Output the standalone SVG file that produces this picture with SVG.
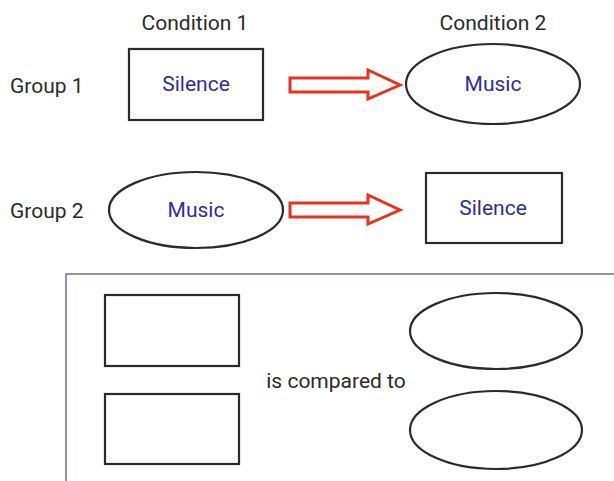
<svg xmlns="http://www.w3.org/2000/svg" width="614" height="481" viewBox="0 0 614 481">
<style>
.shape{fill:#fff;stroke:#2a2a2a;stroke-width:2.2}
.lbl{font-family:Roboto,"DejaVu Sans",sans-serif;font-size:21px;fill:#2a2a2a}
.node{font-family:Roboto,"DejaVu Sans",sans-serif;font-size:21px;fill:#2d2d9a;text-anchor:middle}
.arrow{fill:#fff;stroke:#e8321e;stroke-width:3;stroke-linejoin:miter}
</style>
<rect width="614" height="481" fill="#fff"/>
<text class="lbl" x="195" y="30" text-anchor="middle">Condition 1</text>
<text class="lbl" x="493" y="30" text-anchor="middle">Condition 2</text>
<text class="lbl" x="10" y="93">Group 1</text>
<text class="lbl" x="10" y="218">Group 2</text>
<g id="g1c1"><rect class="shape" x="129" y="49" width="134" height="71"/><text class="node" x="196" y="91">Silence</text></g>
<g id="g1c2"><ellipse class="shape" cx="493" cy="84" rx="87" ry="40"/><text class="node" x="493" y="91">Music</text></g>
<g id="g2c1"><ellipse class="shape" cx="196" cy="210" rx="87" ry="38"/><text class="node" x="196" y="217">Music</text></g>
<g id="g2c2"><rect class="shape" x="426" y="173" width="136" height="70"/><text class="node" x="493" y="215">Silence</text></g>
<g id="connectors">
<path class="arrow" d="M290 78 H368 V70 L400 85 L368 99 V92 H290 Z"/>
<path class="arrow" d="M290 203 H368 V195 L400 210 L368 224 V217 H290 Z"/>
</g>
<g id="legend">
<path d="M66 481 V274 H614" fill="none" stroke="#6b6bb0" stroke-width="1.5"/>
<rect class="shape" x="105" y="295" width="134" height="71"/>
<rect class="shape" x="105" y="394" width="134" height="70"/>
<text class="lbl" x="336" y="388" text-anchor="middle">is compared to</text>
<ellipse class="shape" cx="496" cy="331" rx="86" ry="38"/>
<ellipse class="shape" cx="496" cy="430" rx="86" ry="39"/>
</g>
</svg>
